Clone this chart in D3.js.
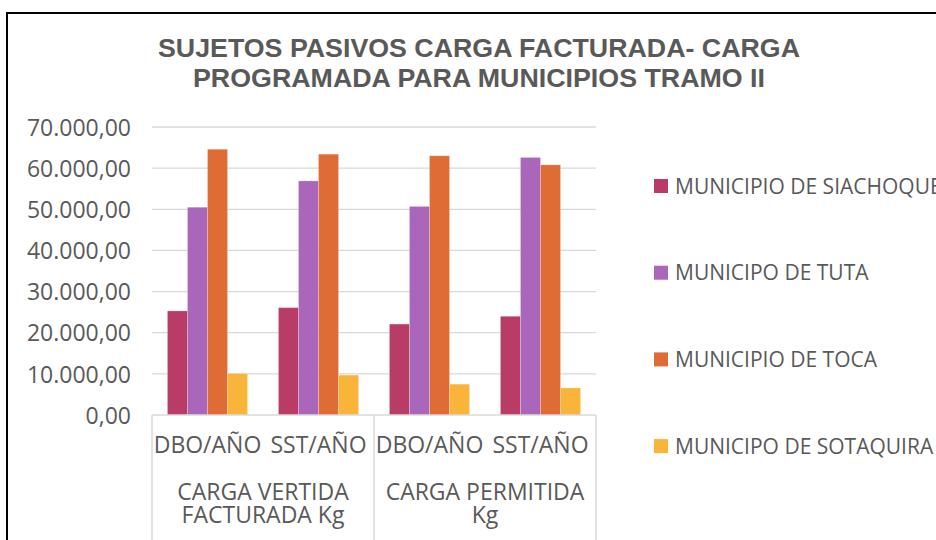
<!DOCTYPE html>
<html>
<head>
<meta charset="utf-8">
<title>Sujetos pasivos</title>
<style>
  body { margin: 0; background: #fff; }
  text { fill: #595959; }
  .title { font: bold 25px "Liberation Sans", Arial, sans-serif; }
  .tick text { font: 23px "Open Sans", sans-serif; fill: #595959; }
  .lbl { font: 23px "Open Sans", sans-serif; }
  .leg { font: 21px "Open Sans", sans-serif; }
</style>
</head>
<body>
<script src="https://cdn.jsdelivr.net/npm/d3@7/dist/d3.min.js"></script>
<script>
var groups = ["CARGA VERTIDA\nFACTURADA Kg", "CARGA PERMITIDA\nKg"];
var subcats = ["DBO/AÑO", "SST/AÑO"];
var series = ["MUNICIPIO DE SIACHOQUE", "MUNICIPO DE TUTA", "MUNICIPIO DE TOCA", "MUNICIPO DE SOTAQUIRA"];
var colors = ["#B83C66", "#AA66BB", "#DF6B35", "#F9B43A"];
// values per category (DBO CVF, SST CVF, DBO CP, SST CP)
var siachoque = [25300, 26100, 22100, 24000];
var tuta      = [50500, 56900, 50700, 62600];
var toca      = [64600, 63400, 63000, 60800];
var sotaquira = [10100,  9700,  7500,  6600];
var values = [siachoque, tuta, toca, sotaquira];
var yTicks = [0, 10000, 20000, 30000, 40000, 50000, 60000, 70000];

var width = 936, height = 540;
var svg = d3.select("body").append("svg").attr("width", width).attr("height", height);

// frame
svg.append("path").attr("d", "M7,541 V13 H937").attr("fill", "none").attr("stroke", "#000").attr("stroke-width", 2);

var x0 = 152, x1 = 596, yTop = 127, yBot = 415;
var cats = [];
groups.forEach(function(g, gi) { subcats.forEach(function(s) { cats.push(gi + "|" + s); }); });

var x = d3.scaleBand().domain(cats).range([x0, x1]).paddingInner(0).paddingOuter(0);
var xs = d3.scaleBand().domain(series).range([0, x.bandwidth()]).paddingInner(0).paddingOuter(0.77);
var y = d3.scaleLinear().domain([0, 70000]).range([yBot, yTop]);

var fmt = function(d) {
  var s = d3.format(",.2f")(d);
  return s.replace(/,/g, "#").replace(".", ",").replace(/#/g, ".");
};

// gridlines
svg.append("g").selectAll("line").data(yTicks.slice(1)).join("line")
  .attr("x1", x0).attr("x2", x1)
  .attr("y1", function(d) { return y(d); }).attr("y2", function(d) { return y(d); })
  .attr("stroke", "#d9d9d9").attr("stroke-width", 1.3);

var yAxis = svg.append("g").attr("transform", "translate(" + (x0 - 21) + ",0)")
  .call(d3.axisLeft(y).tickValues(yTicks).tickFormat(fmt).tickSize(0).tickPadding(0));
yAxis.select(".domain").remove();
yAxis.selectAll("text").attr("dy", "0.36em");

// bars
series.forEach(function(s, si) {
  svg.append("g").selectAll("rect").data(values[si]).join("rect")
    .attr("x", function(d, i) { return x(cats[i]) + xs(s); })
    .attr("width", xs.bandwidth())
    .attr("y", function(d) { return y(d); })
    .attr("height", function(d) { return y(0) - y(d); })
    .attr("fill", colors[si])
    .attr("stroke", "#fff").attr("stroke-opacity", 0.35).attr("stroke-width", 0.7);
});

// x axis line and separators
svg.append("line").attr("x1", x0).attr("x2", x1).attr("y1", yBot).attr("y2", yBot)
  .attr("stroke", "#d9d9d9").attr("stroke-width", 1.5);
svg.append("g").selectAll("line").data([x0, x0 + (x1 - x0) / 2, x1]).join("line")
  .attr("x1", function(d) { return d; }).attr("x2", function(d) { return d; })
  .attr("y1", yBot).attr("y2", height)
  .attr("stroke", "#d9d9d9").attr("stroke-width", 1.5);

svg.append("g").selectAll("text").data(cats).join("text")
  .attr("class", "lbl")
  .attr("x", function(d) { return x(d) + x.bandwidth() / 2; })
  .attr("y", 453).attr("text-anchor", "middle")
  .text(function(d) { return d.split("|")[1]; });

groups.forEach(function(g, gi) {
  var cx = x0 + (x1 - x0) / 4 * (2 * gi + 1);
  g.split("\n").forEach(function(line, li) {
    svg.append("text").attr("class", "lbl").attr("x", cx).attr("y", 500 + li * 23.3)
      .attr("text-anchor", "middle").text(line);
  });
});

// title
[["SUJETOS PASIVOS CARGA FACTURADA- CARGA", 642], ["PROGRAMADA PARA MUNICIPIOS TRAMO II", 572]].forEach(function(t, i) {
  svg.append("text").attr("class", "title").attr("x", 479).attr("y", 57 + i * 30)
    .attr("text-anchor", "middle")
    .attr("textLength", t[1]).attr("lengthAdjust", "spacingAndGlyphs")
    .text(t[0]);
});

// legend
var leg = svg.append("g").selectAll("g").data(series).join("g")
  .attr("transform", function(d, i) { return "translate(654," + (186 + i * 86.7) + ")"; });
leg.append("rect").attr("x", 0).attr("y", -7).attr("width", 14).attr("height", 14)
  .attr("fill", function(d, i) { return colors[i]; });
leg.append("text").attr("class", "leg").attr("x", 21).attr("dy", "0.36em").text(function(d) { return d; });
</script>
</body>
</html>
